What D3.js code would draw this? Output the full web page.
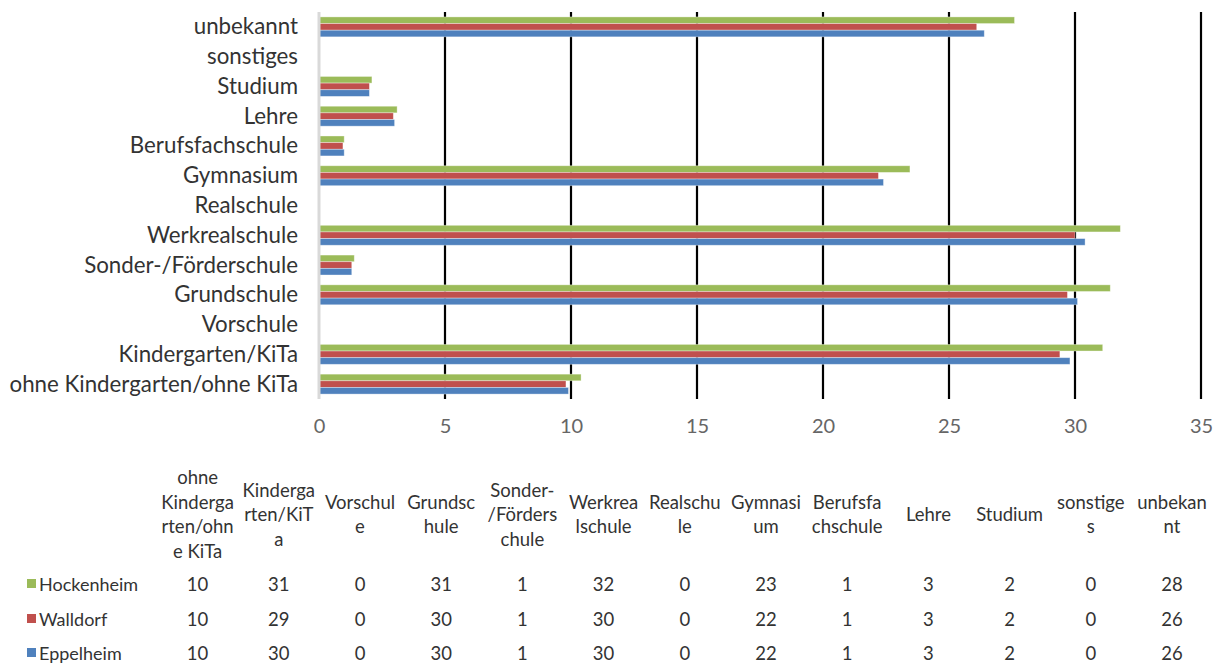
<!DOCTYPE html>
<html><head><meta charset="utf-8">
<script src="https://cdn.jsdelivr.net/npm/d3@7"></script>
<style>body{margin:0;background:#fff} svg{display:block}</style>
</head><body><svg id="chart" width="1219" height="663"></svg>
<script>
// Bildungsstand nach Einrichtung – Anteile je Stadt (in %)
const categories = ["ohne Kindergarten/ohne KiTa","Kindergarten/KiTa","Vorschule","Grundschule","Sonder-/Förderschule","Werkrealschule","Realschule","Gymnasium","Berufsfachschule","Lehre","Studium","sonstiges","unbekannt"];
const seriesNames = ["Hockenheim","Walldorf","Eppelheim"];
const hockenheim = [10.4,31.1,0,31.4,1.4,31.8,0,23.45,1.0,3.1,2.1,0,27.6];
const walldorf   = [9.8,29.4,0,29.7,1.3,30.0,0,22.2,0.95,2.95,2.0,0,26.1];
const eppelheim  = [9.9,29.8,0,30.1,1.3,30.4,0,22.4,1.0,3.0,2.0,0,26.4];
const seriesColors = ["#9BBB59","#C0504D","#4F81BD"];
const xTicks = [0,5,10,15,20,25,30,35];
// Spaltenköpfe der Datentabelle, umbrochen wie in der Tabelle
const headerLines = [["ohne","Kinderga","rten/ohn","e KiTa"],["Kinderga","rten/KiT","a"],["Vorschul","e"],["Grundsc","hule"],["Sonder-","/Förders","chule"],["Werkrea","lschule"],["Realschu","le"],["Gymnasi","um"],["Berufsfa","chschule"],["Lehre"],["Studium"],["sonstige","s"],["unbekan","nt"]];

const seriesValues = [hockenheim, walldorf, eppelheim];
const font = "Lato, 'Open Sans', sans-serif";
const textColor = "#333333";
const svg = d3.select("#chart");

const x = d3.scaleLinear().domain([0,35]).range([319,1201]);
const y = d3.scaleBand().domain(categories.slice().reverse()).range([12,399])
  .paddingInner(0.33).paddingOuter(0.165);
const ySub = d3.scaleBand().domain(seriesNames).range([0, y.bandwidth()]);

// vertikale Gitterlinien
svg.append("g").selectAll("line").data(xTicks.filter(t => t > 0)).join("line")
  .attr("x1", d => x(d)).attr("x2", d => x(d))
  .attr("y1", 12).attr("y2", 399)
  .attr("stroke", "#000").attr("stroke-width", 2.2);

// Balken
const groups = svg.append("g").selectAll("g").data(categories).join("g")
  .attr("transform", c => `translate(0,${y(c)})`);
groups.selectAll("rect")
  .data((c, i) => seriesNames.map((s, k) => ({s, k, v: seriesValues[k][i]})))
  .join("rect")
  .filter(d => d.v > 0)
  .attr("x", x(0)).attr("y", d => ySub(d.s))
  .attr("width", d => x(d.v) - x(0)).attr("height", ySub.bandwidth())
  .attr("fill", d => seriesColors[d.k])
  .attr("stroke", "rgba(255,255,255,0.45)").attr("stroke-width", 0.8);

// Kategorieachse
svg.append("line").attr("x1", x(0)).attr("x2", x(0)).attr("y1", 12).attr("y2", 399)
  .attr("stroke", "#d9d9d9").attr("stroke-width", 3);
svg.append("g").selectAll("text").data(categories).join("text")
  .attr("x", 298).attr("y", c => y(c) + y.bandwidth() / 2 - 1)
  .attr("text-anchor", "end").attr("dominant-baseline", "central")
  .attr("font-family", font).attr("font-size", 22.3).attr("fill", textColor)
  .text(c => c);

// Werteachse
const xAxis = d3.axisBottom(x).tickValues(xTicks).tickSize(0).tickPadding(0);
const gx = svg.append("g").attr("transform", "translate(0,419)").call(xAxis);
gx.select(".domain").remove();
gx.selectAll("text").attr("font-family", font).attr("font-size", 20).attr("fill", "#666666");

// Datentabelle
const colW = 81.2, col0 = 157;
const table = svg.append("g").attr("font-family", font).attr("fill", textColor);
headerLines.forEach((lines, i) => {
  const cx = col0 + colW * (i + 0.5);
  const lh = 24.5, top = 514 - (lines.length - 1) * lh / 2;
  table.append("text").attr("x", cx).attr("text-anchor", "middle")
    .attr("font-size", 18.5)
    .selectAll("tspan").data(lines).join("tspan")
    .attr("x", cx).attr("y", (d, j) => top + j * lh).attr("dominant-baseline", "central")
    .text(d => d);
});
const rowY = [584, 619, 653];
const fmt = d3.format(".0f");
seriesNames.forEach((s, k) => {
  table.append("rect").attr("x", 27).attr("y", rowY[k] - 5).attr("width", 9).attr("height", 9)
    .attr("fill", seriesColors[k]);
  table.append("text").attr("x", 39).attr("y", rowY[k]).attr("dominant-baseline", "central")
    .attr("font-size", 18).text(s);
  table.append("g").selectAll("text").data(seriesValues[k]).join("text")
    .attr("x", (d, i) => col0 + colW * (i + 0.5)).attr("y", rowY[k])
    .attr("text-anchor", "middle").attr("dominant-baseline", "central")
    .attr("font-size", 18.5).text(d => fmt(d));
});
</script>
</body></html>
